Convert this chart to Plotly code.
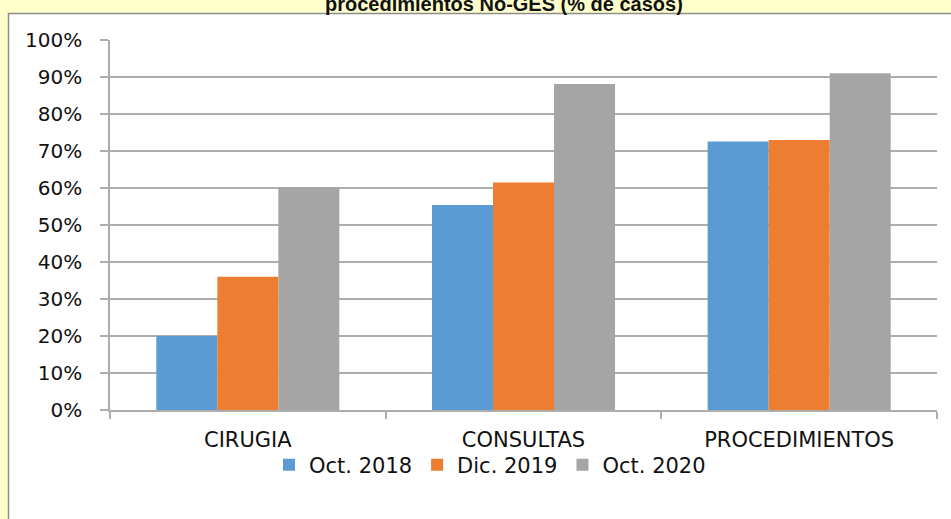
import plotly.graph_objects as go

categories = ["CIRUGIA", "CONSULTAS", "PROCEDIMIENTOS"]
series_names = ["Oct. 2018", "Dic. 2019", "Oct. 2020"]
oct_2018 = [0.20, 0.554, 0.726]
dic_2019 = [0.36, 0.615, 0.730]
oct_2020 = [0.602, 0.881, 0.910]
colors = ["#5B9BD5", "#ED7D31", "#A5A5A5"]
title_text = "procedimientos No-GES (% de casos)"

W, H = 951, 519
L, R, T, B = 110, 14, 40, 109
pw, ph = W - L - R, H - T - B

def px_x(x):
    return (x - L) / pw

def px_y(y):
    return (H - B - y) / ph

fig = go.Figure()
for name, vals, col in zip(series_names, [oct_2018, dic_2019, oct_2020], colors):
    fig.add_trace(go.Bar(x=categories, y=vals, name=name,
                         marker=dict(color=col, line=dict(width=0))))

font = "DejaVu Sans"
fig.update_layout(
    width=W, height=H,
    margin=dict(l=L, r=R, t=T, b=B),
    paper_bgcolor="#FFFFCC",
    plot_bgcolor="white",
    barmode="group",
    bargap=0.336,
    bargroupgap=0,
    showlegend=True,
    legend=dict(orientation="h", x=px_x(490), xanchor="center",
                y=px_y(465), yanchor="middle",
                font=dict(family=font, size=21, color="#111111"),
                bgcolor="rgba(0,0,0,0)"),
    font=dict(family=font, color="#111111"),
    shapes=[dict(type="rect", xref="paper", yref="paper", layer="below",
                 x0=px_x(8.5), x1=px_x(960), y0=px_y(530), y1=px_y(13.5),
                 fillcolor="white", line=dict(color="#8C8C8C", width=1.5))],
    annotations=[dict(text="<b>" + title_text + "</b>", xref="paper", yref="paper",
                      x=px_x(504), y=px_y(17), xanchor="center", yanchor="bottom",
                      showarrow=False,
                      font=dict(family="Liberation Sans", size=20, color="#111111"))],
)
fig.update_yaxes(range=[0, 1], dtick=0.1, tickformat=".0%",
                 showgrid=True, gridcolor="#ADADAD", gridwidth=1.5,
                 showline=True, linecolor="#ADADAD", linewidth=1.5,
                 ticks="outside", ticklen=8, tickcolor="#ADADAD", tickwidth=1.5,
                 ticklabelstandoff=14,
                 tickfont=dict(family=font, size=20, color="#111111"),
                 zeroline=False)
fig.update_xaxes(showline=True, linecolor="#ADADAD", linewidth=1.5,
                 ticks="outside", tickson="boundaries", ticklen=7,
                 tickcolor="#ADADAD", tickwidth=1.5,
                 ticklabelstandoff=10,
                 tickfont=dict(family=font, size=21, color="#111111"))

fig.write_html("out.html", config={"displayModeBar": False},
               post_script="document.body.style.margin='0';document.body.style.background='#FFFFCC';")
